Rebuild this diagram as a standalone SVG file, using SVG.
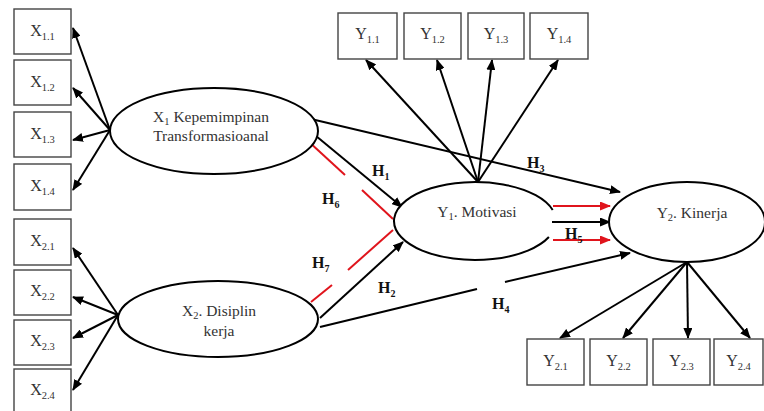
<svg xmlns="http://www.w3.org/2000/svg" width="764" height="411" viewBox="0 0 764 411" font-family="Liberation Serif, Times New Roman, serif">
<defs>
<marker id="ab" markerUnits="userSpaceOnUse" markerWidth="11" markerHeight="9" refX="10" refY="4.5" orient="auto"><path d="M0,0 L11,4.5 L0,9 z" fill="#000"/></marker>
<marker id="ar" markerUnits="userSpaceOnUse" markerWidth="11" markerHeight="9" refX="10" refY="4.5" orient="auto"><path d="M0,0 L11,4.5 L0,9 z" fill="#e0141c"/></marker>
</defs>
<style>
.box{fill:#fff;stroke:#444;stroke-width:1.4}
.ell{fill:#fff;stroke:#000;stroke-width:2}
.t{font-size:15.5px;fill:#333;text-anchor:middle}
.b{font-size:16px}
.s{font-size:10.5px}
.h{font-size:16px;font-weight:bold;fill:#111}
.hs{font-size:10px}
.c{stroke:#000;stroke-width:2;fill:none}
.ca{stroke:#000;stroke-width:2;fill:none;marker-end:url(#ab)}
.r{stroke:#e0141c;stroke-width:2;fill:none}
.ra{stroke:#e0141c;stroke-width:2;fill:none;marker-end:url(#ar)}
</style>
<rect width="764" height="411" fill="#fff"/>
<g id="connectors">
<line class="ca" x1="110" y1="130" x2="73" y2="28"/>
<line class="ca" x1="110" y1="130" x2="73" y2="88"/>
<line class="ca" x1="110" y1="130" x2="73" y2="140"/>
<line class="ca" x1="110" y1="130" x2="73" y2="190"/>
<line class="ca" x1="118" y1="315" x2="73" y2="248"/>
<line class="ca" x1="118" y1="315" x2="73" y2="297"/>
<line class="ca" x1="118" y1="315" x2="73" y2="338"/>
<line class="ca" x1="118" y1="315" x2="73" y2="390"/>
<line class="ca" x1="478" y1="182" x2="366" y2="60"/>
<line class="ca" x1="478" y1="182" x2="437" y2="60"/>
<line class="ca" x1="478" y1="182" x2="492" y2="60"/>
<line class="ca" x1="478" y1="182" x2="558" y2="60"/>
<line class="ca" x1="687" y1="262" x2="560" y2="338"/>
<line class="ca" x1="687" y1="262" x2="623" y2="338"/>
<line class="ca" x1="687" y1="262" x2="688" y2="338"/>
<line class="ca" x1="687" y1="262" x2="750" y2="338"/>
<line class="ca" x1="311" y1="119" x2="620" y2="192"/>
<line class="ca" x1="310" y1="131" x2="402" y2="207"/>
<line class="ca" x1="320" y1="318" x2="403" y2="242"/>
<line class="c" x1="320" y1="327" x2="477" y2="289"/>
<line class="ca" x1="505" y1="282" x2="630" y2="253"/>
<line class="r" x1="308" y1="141" x2="345" y2="175"/>
<line class="r" x1="362" y1="190" x2="393" y2="219"/>
<line class="r" x1="311" y1="302" x2="332" y2="285"/>
<line class="r" x1="348" y1="270" x2="393" y2="230"/>
<line class="ra" x1="553" y1="206" x2="610" y2="206"/>
<line class="ca" x1="552" y1="222" x2="610" y2="222"/>
<line class="ra" x1="553" y1="240" x2="610" y2="240"/>
</g>
<g id="X11"><rect class="box" x="14" y="9" width="57" height="45"/><text class="t b" x="42.5" y="36">X<tspan class="s" dy="4">1.1</tspan></text></g>
<g id="X12"><rect class="box" x="14" y="60" width="57" height="45"/><text class="t b" x="42.5" y="87">X<tspan class="s" dy="4">1.2</tspan></text></g>
<g id="X13"><rect class="box" x="14" y="112" width="57" height="45"/><text class="t b" x="42.5" y="139">X<tspan class="s" dy="4">1.3</tspan></text></g>
<g id="X14"><rect class="box" x="14" y="164" width="57" height="46"/><text class="t b" x="42.5" y="191">X<tspan class="s" dy="4">1.4</tspan></text></g>
<g id="X21"><rect class="box" x="14" y="219" width="57" height="46"/><text class="t b" x="42.5" y="246">X<tspan class="s" dy="4">2.1</tspan></text></g>
<g id="X22"><rect class="box" x="14" y="270" width="57" height="45"/><text class="t b" x="42.5" y="296">X<tspan class="s" dy="4">2.2</tspan></text></g>
<g id="X23"><rect class="box" x="14" y="320" width="57" height="45"/><text class="t b" x="42.5" y="346">X<tspan class="s" dy="4">2.3</tspan></text></g>
<g id="X24"><rect class="box" x="14" y="369" width="57" height="46"/><text class="t b" x="42.5" y="395">X<tspan class="s" dy="4">2.4</tspan></text></g>
<g id="Y11"><rect class="box" x="338" y="13" width="59" height="46"/><text class="t b" x="367.5" y="39">Y<tspan class="s" dy="4">1.1</tspan></text></g>
<g id="Y12"><rect class="box" x="404" y="13" width="57" height="46"/><text class="t b" x="432.5" y="39">Y<tspan class="s" dy="4">1.2</tspan></text></g>
<g id="Y13"><rect class="box" x="468" y="13" width="56" height="46"/><text class="t b" x="496" y="39">Y<tspan class="s" dy="4">1.3</tspan></text></g>
<g id="Y14"><rect class="box" x="530" y="13" width="58" height="46"/><text class="t b" x="559" y="39">Y<tspan class="s" dy="4">1.4</tspan></text></g>
<g id="Y21"><rect class="box" x="527" y="339" width="57" height="46"/><text class="t b" x="555.5" y="366">Y<tspan class="s" dy="4">2.1</tspan></text></g>
<g id="Y22"><rect class="box" x="590" y="339" width="57" height="46"/><text class="t b" x="618.5" y="366">Y<tspan class="s" dy="4">2.2</tspan></text></g>
<g id="Y23"><rect class="box" x="653" y="339" width="57" height="46"/><text class="t b" x="681.5" y="366">Y<tspan class="s" dy="4">2.3</tspan></text></g>
<g id="Y24"><rect class="box" x="714" y="339" width="49" height="46"/><text class="t b" x="738.5" y="366">Y<tspan class="s" dy="4">2.4</tspan></text></g>
<g id="X1"><ellipse class="ell" cx="214" cy="131" rx="104" ry="43"/><text class="t" x="211" y="122">X<tspan class="s" dy="3">1</tspan><tspan dy="-3"> Kepemimpinan</tspan></text><text class="t" x="211" y="141">Transformasioanal</text></g>
<g id="X2"><ellipse class="ell" cx="218" cy="319" rx="100" ry="38"/><text class="t" x="219" y="316">X<tspan class="s" dy="3">2</tspan><tspan dy="-3">. Disiplin</tspan></text><text class="t" x="219" y="336">kerja</text></g>
<g id="Y1"><path class="ell" d="M552.7,210 A81,39 0 1 0 548.9,237"/><text class="t" x="477" y="217">Y<tspan class="s" dy="3">1</tspan><tspan dy="-3">. Motivasi</tspan></text></g>
<g id="Y2"><ellipse class="ell" cx="687" cy="222" rx="78" ry="40"/><text class="t" x="692" y="218">Y<tspan class="s" dy="3">2</tspan><tspan dy="-3">. Kinerja</tspan></text></g>
<g id="labels">
<text class="h" x="372" y="176">H<tspan class="hs" dy="4">1</tspan></text>
<text class="h" x="527" y="168">H<tspan class="hs" dy="4">3</tspan></text>
<text class="h" x="322" y="204">H<tspan class="hs" dy="4">6</tspan></text>
<text class="h" x="312" y="268">H<tspan class="hs" dy="4">7</tspan></text>
<text class="h" x="378" y="293">H<tspan class="hs" dy="4">2</tspan></text>
<text class="h" x="492" y="309">H<tspan class="hs" dy="4">4</tspan></text>
<text class="h" x="565" y="239">H<tspan class="hs" dy="4">5</tspan></text>
</g>
</svg>
